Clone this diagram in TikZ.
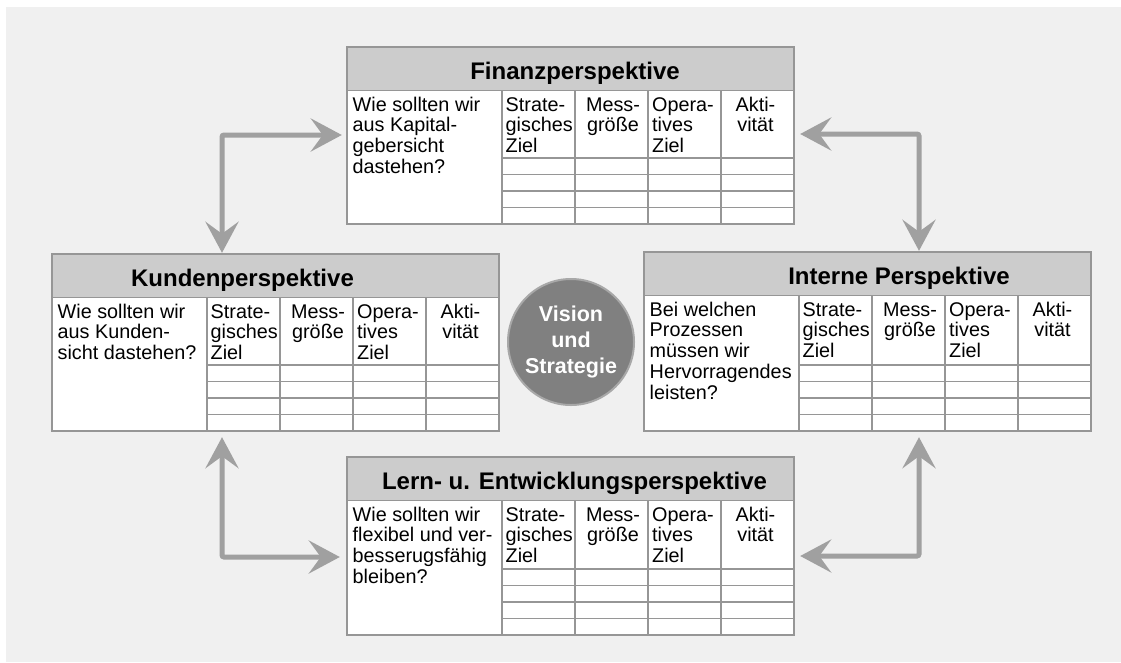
\documentclass[tikz,border=0pt]{standalone}
\usepackage{fontspec}
\setmainfont{Liberation Sans}
\usetikzlibrary{arrows.meta,fit}
\definecolor{bggray}{RGB}{240,240,240}
\definecolor{hdrgray}{RGB}{204,204,204}
\definecolor{linegray}{RGB}{150,150,150}
\definecolor{arrgray}{RGB}{160,160,160}
\definecolor{circfill}{RGB}{128,128,128}
\definecolor{circline}{RGB}{168,168,168}
\tikzset{
  panelbox/.style={fill=white, inner sep=0pt},
  hdrfill/.style={fill=hdrgray},
  gridline/.style={draw=linegray, line width=1.1pt},
  outerline/.style={draw=linegray, line width=1.5pt},
  titletext/.style={font=\fontsize{24}{27}\selectfont\bfseries, inner sep=0pt, anchor=base},
  bodytext/.style={font=\fontsize{19.8}{20.8}\selectfont, inner sep=0pt},
  bigtip/.tip={Stealth[length=31pt,width=33pt,inset=12pt]},
  bigarrow/.style={draw=arrgray, line width=5pt, rounded corners=2pt, {bigtip}-{bigtip}},
  visionnode/.style={circle, fill=circfill, draw=circline, line width=2pt, minimum size=126pt, inner sep=0pt, text=white, font=\fontsize{21.5}{26}\selectfont\bfseries, align=center},
}
% name, L, T, B, title x, title, question
\newcommand\bscpanel[7]{%
  \node[panelbox, fit={(#2,#3) ({#2+447},#4)}] (#1) {};
  \fill[hdrfill] (#2,#3) rectangle ({#2+447},{#3+43.5});
  \draw[gridline] (#2,{#3+43.5}) -- ({#2+447},{#3+43.5});
  \foreach \c in {155,228,301,374} \draw[gridline] ({#2+\c},{#3+43.5}) -- ({#2+\c},#4);
  \foreach \r in {66,49.5,33,16.5} \draw[gridline] ({#2+155},{#4-\r}) -- ({#2+447},{#4-\r});
  \draw[outerline] (#1.north west) rectangle (#1.south east);
  \node[titletext] (#1t) at (#5,{#3+32}) {#6};
  \node[bodytext, anchor=base west] (#1q) at ({#2+5.5},{#3+64}) {\parbox[t]{150pt}{\raggedright #7}};
  \node[bodytext, anchor=base west] (#1a) at ({#2+158.5},{#3+64}) {\parbox[t]{72pt}{\raggedright Strate-\\gisches\\Ziel}};
  \node[bodytext, anchor=base] (#1b) at ({#2+266},{#3+64}) {\parbox[t]{70pt}{\centering Mess-\\größe}};
  \node[bodytext, anchor=base west] (#1c) at ({#2+305},{#3+64}) {\parbox[t]{70pt}{\raggedright Opera-\\tives\\Ziel}};
  \node[bodytext, anchor=base] (#1d) at ({#2+408.5},{#3+64}) {\parbox[t]{70pt}{\centering Akti-\\vität}};
}
\begin{document}
\begin{tikzpicture}[x=1pt,y=-1pt]
\useasboundingbox (0,0) rectangle (1121,662);
\fill[white] (0,0) rectangle (1121,662);
\fill[bggray] (6,7) rectangle (1121,662);

\bscpanel{fin}{347}{47}{224}{575}{Finanzperspektive}{Wie sollten wir\\aus Kapital-\\gebersicht\\dastehen?}
\bscpanel{kun}{52}{254}{431}{242.5}{Kundenperspektive}{Wie sollten wir\\aus Kunden-\\sicht dastehen?}
\bscpanel{int}{644}{252}{431}{899}{Interne Perspektive}{Bei welchen\\Prozessen\\müssen wir\\Hervorragendes\\leisten?}
\bscpanel{lern}{347}{457}{635}{574.5}{Lern- u. Entwicklungsperspektive}{Wie sollten wir\\flexibel und ver-\\besserugsfähig\\bleiben?}

\node[visionnode] (vis) at (571,342) {Vision\\und\\Strategie};

\coordinate (c1) at (222,135);
\coordinate (c2) at (919,134);
\coordinate (c3) at (222,557);
\coordinate (c4) at (919,556);

\draw[bigarrow, shorten <=5pt, shorten >=1pt] (fin.west |- c1) -- (c1) -- (kun.north -| c1);
\draw[bigarrow, shorten <=6pt, shorten >=1pt] (fin.east |- c2) -- (c2) -- (int.north -| c2);
\draw[bigarrow, shorten <=6pt, shorten >=7pt] (kun.south -| c3) -- (c3) -- (lern.west |- c3);
\draw[bigarrow, shorten <=6pt, shorten >=6pt] (int.south -| c4) -- (c4) -- (lern.east |- c4);
\end{tikzpicture}
\end{document}
